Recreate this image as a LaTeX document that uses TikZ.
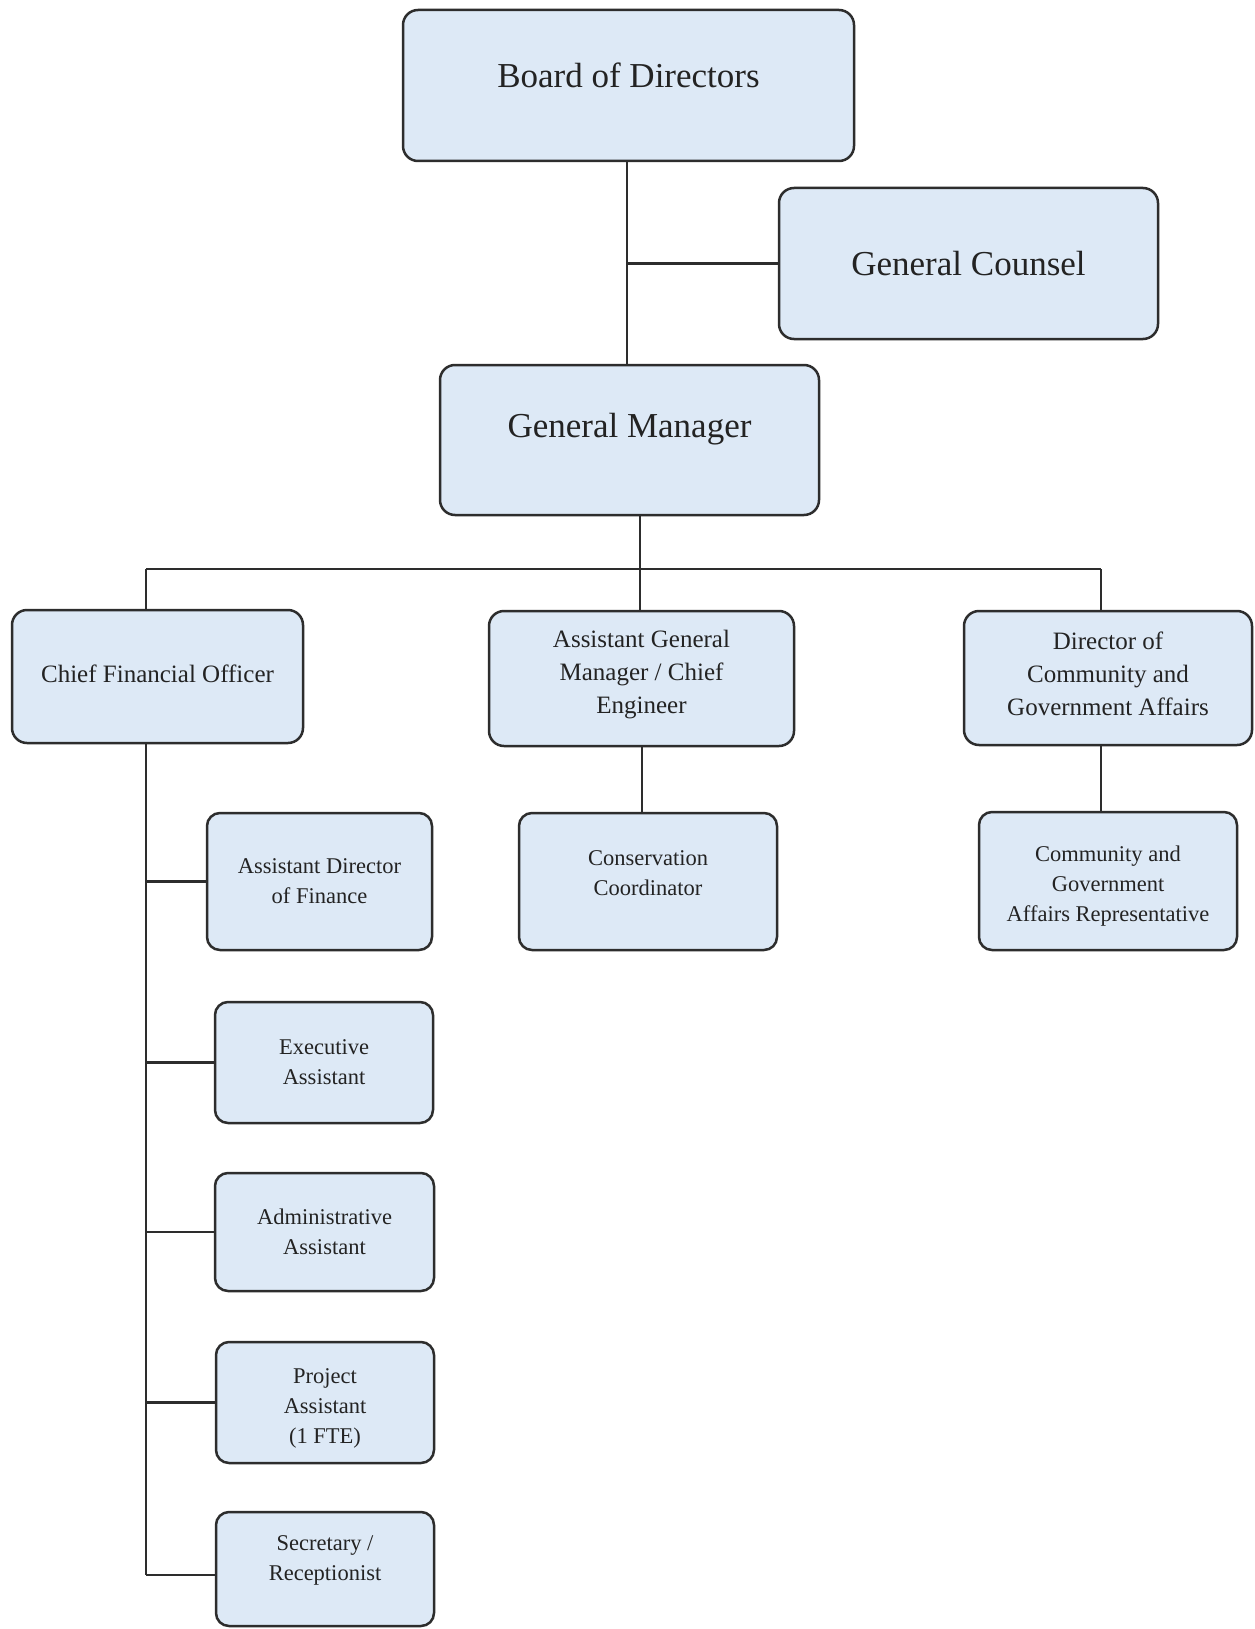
\documentclass[tikz,border=0pt]{standalone}
\usepackage{fontspec}
\setmainfont{Liberation Serif}
\definecolor{boxfill}{RGB}{221,233,246}
\definecolor{boxline}{RGB}{45,45,45}
\definecolor{txtcol}{RGB}{35,35,35}
\tikzset{
  orgbox/.style={draw=boxline, line width=2.5pt, fill=boxfill, rounded corners=15pt, inner sep=0pt},
  bigtxt/.style={text=txtcol, align=center, font=\fontsize{35}{44}\selectfont, inner sep=0pt},
  midtxt/.style={text=txtcol, align=center, font=\fontsize{25}{33}\selectfont, inner sep=0pt},
  smalltxt/.style={text=txtcol, align=center, font=\fontsize{22.5}{30}\selectfont, inner sep=0pt},
  link/.style={draw=boxline, line width=2.2pt}
}
\begin{document}
\begin{tikzpicture}[x=1pt,y=-1pt]
\useasboundingbox[fill=white] (0,0) rectangle (1254,1629);

% top level boxes
\node[orgbox, minimum width=451pt, minimum height=151pt] (board) at (628.5,85.5) {};
\node[bigtxt] (boardT) at ([yshift=10.5pt]board.center) {Board of Directors};
\node[orgbox, minimum width=379pt, minimum height=151pt] (gc) at (968.5,263.5) {};
\node[bigtxt] (gcT) at (gc.center) {General Counsel};
\node[orgbox, minimum width=379pt, minimum height=150pt] (gm) at (629.5,440) {};
\node[bigtxt] (gmT) at ([yshift=11pt]gm.center) {General Manager};

% second level
\node[orgbox, minimum width=291pt, minimum height=133pt] (cfo) at (157.5,676.5) {};
\node[midtxt] (cfoT) at ([yshift=3pt]cfo.center) {Chief Financial Officer};
\node[orgbox, minimum width=305pt, minimum height=135pt] (agm) at (641.5,678.5) {};
\node[midtxt] (agmT) at ([yshift=3.5pt]agm.center) {Assistant General\\Manager / Chief\\Engineer};
\node[orgbox, minimum width=288pt, minimum height=134pt] (dir) at (1108,678) {};
\node[midtxt] (dirT) at ([yshift=4pt]dir.center) {Director of\\Community and\\Government Affairs};

% third level
\node[orgbox, rounded corners=13pt, minimum width=258pt, minimum height=137pt] (cons) at (648,881.5) {};
\node[smalltxt] (consT) at ([yshift=8.5pt]cons.center) {Conservation\\Coordinator};
\node[orgbox, rounded corners=13pt, minimum width=258pt, minimum height=138pt] (cgar) at (1108,881) {};
\node[smalltxt] (cgarT) at ([yshift=-5pt]cgar.center) {Community and\\Government\\Affairs Representative};

% finance staff
\node[orgbox, rounded corners=13pt, minimum width=225pt, minimum height=137pt] (adf) at (319.5,881.5) {};
\node[smalltxt] (adfT) at (adf.center) {Assistant Director\\of Finance};
\node[orgbox, rounded corners=13pt, minimum width=218pt, minimum height=121pt] (exec) at (324,1062.5) {};
\node[smalltxt] (execT) at (exec.center) {Executive\\Assistant};
\node[orgbox, rounded corners=13pt, minimum width=219pt, minimum height=118pt] (admin) at (324.5,1232) {};
\node[smalltxt] (adminT) at (admin.center) {Administrative\\Assistant};
\node[orgbox, rounded corners=13pt, minimum width=218pt, minimum height=121pt] (proj) at (325,1402.5) {};
\node[smalltxt] (projT) at ([yshift=-5.5pt]proj.center) {Project\\Assistant\\(1 FTE)};
\node[orgbox, rounded corners=13pt, minimum width=218pt, minimum height=114pt] (sec) at (325,1569) {};
\node[smalltxt] (secT) at ([yshift=8.5pt]sec.center) {Secretary /\\Receptionist};

% connectors
\coordinate (topx) at (627,0);
\draw[link] (topx |- board.south) -- (topx |- gm.north);
\draw[link] (topx |- gc.west) -- (gc.west);

\coordinate (busL) at (146,569);
\coordinate (busM) at (640,569);
\coordinate (busR) at (1101,569);
\draw[link] (busM |- gm.south) -- (busM);
\draw[link] (busL) -- (busR);
\draw[link] (busL) -- (busL |- cfo.north);
\draw[link] (busM) -- (busM |- agm.north);
\draw[link] (busR) -- (busR |- dir.north);

\coordinate (agmx) at (642,0);
\draw[link] (agmx |- agm.south) -- (agmx |- cons.north);
\draw[link] (busR |- dir.south) -- (busR |- cgar.north);

\coordinate (spineEnd) at (146,1575);
\draw[link] (busL |- cfo.south) -- (spineEnd);
\draw[link] (busL |- adf.west) -- (adf.west);
\draw[link] (busL |- exec.west) -- (exec.west);
\draw[link] (busL |- admin.west) -- (admin.west);
\draw[link] (busL |- proj.west) -- (proj.west);
\draw[link] (spineEnd) -- (spineEnd -| sec.west);
\end{tikzpicture}
\end{document}
